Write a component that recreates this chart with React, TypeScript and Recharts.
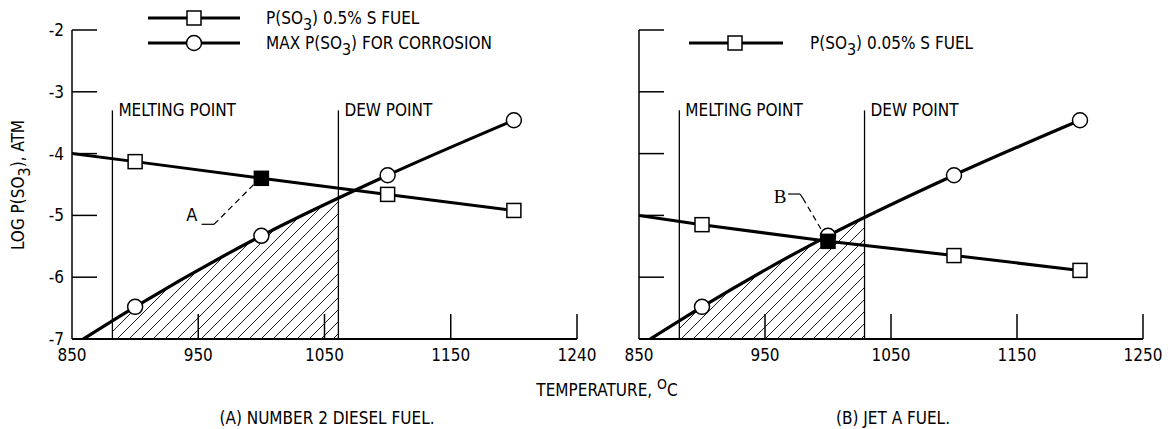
import React from "react";
import {Area, ComposedChart, Line, ReferenceDot, ReferenceLine, XAxis, YAxis} from "recharts";

// temperatures (deg C) and log P(SO3) values
const squareTemps = [850, 900, 1000, 1100, 1200];
const dieselSo3 = [-4.0, -4.13, -4.4, -4.66, -4.92];
const jetSo3 = [-5.0, -5.15, -5.42, -5.65, -5.89];
const circleTemps = [859, 900, 1000, 1100, 1200];
const maxSo3 = [-7.0, -6.48, -5.33, -4.35, -3.46];

// hatched corrosion zone (under the max curve, between melting and dew point)
const hatchTempsA = [882, 900, 1000, 1061];
const hatchValsA = [-6.71, -6.48, -5.33, -4.73];
const hatchTempsB = [882, 900, 1000, 1029];
const hatchValsB = [-6.71, -6.48, -5.33, -5.05];

const xTicks = [850, 950, 1050, 1150, 1250];
const xLabelsA = ["850", "950", "1050", "1150", "1240"];
const xLabelsB = ["850", "950", "1050", "1150", "1250"];
const yTicks = [-7, -6, -5, -4, -3, -2];

const meltA = 882;
const dewA = 1061;
const meltB = 882;
const dewB = 1029;
const markTemp = 1000;

const zip = (ts: number[], vs: number[]) => ts.map((t, i) => ({t, v: vs[i]}));

const FONT = "'DejaVu Sans Condensed', 'DejaVu Sans', sans-serif";
const txt = {fontFamily: FONT, fontSize: 17, fill: "#000"};

const makeXTick = (labels: string[]) => (props: any) => {
    const {x, y, payload} = props;
    const i = xTicks.indexOf(payload.value);
    return (
        <g>
            {payload.value !== 850 && <line x1={x} y1={y} x2={x} y2={y - 25} stroke="#000" strokeWidth={1.5}/>}
            <text x={x} y={y + 22} textAnchor="middle" style={txt}>{labels[i]}</text>
        </g>
    );
};

const makeYTick = (showLabel: boolean) => (props: any) => {
    const {x, y, payload} = props;
    return (
        <g>
            {payload.value !== -7 && <line x1={x} y1={y} x2={x + 25} y2={y} stroke="#000" strokeWidth={1.5}/>}
            {showLabel && <text x={x - 8} y={y + 6} textAnchor="end" style={txt}>{String(payload.value)}</text>}
        </g>
    );
};

const squareDot = (props: any) => {
    const {cx, cy, index, payload} = props;
    if (index === 0) return <g key={`s${index}`}/>;
    const filled = payload.t === markTemp;
    return <rect key={`s${index}`} x={cx - 7} y={cy - 7} width={14} height={14}
                 fill={filled ? "#000" : "#fff"} stroke="#000" strokeWidth={1.5}/>;
};

const circleDot = (props: any) => {
    const {cx, cy, index} = props;
    if (index === 0) return <g key={`c${index}`}/>;
    return <circle key={`c${index}`} cx={cx} cy={cy} r={7.5} fill="#fff" stroke="#000" strokeWidth={1.5}/>;
};

const pointLabel = (value: string) => ({value, position: "right" as const, offset: 6, style: txt});

interface PanelProps {
    width: number,
    left: number,
    right: number,
    squares: { t: number, v: number }[],
    hatch: { t: number, v: number }[],
    melt: number,
    dew: number,
    labels: string[],
    showY: boolean,
    children?: React.ReactNode
}

const Panel = ({width, left, right, squares, hatch, melt, dew, labels, showY, children}: PanelProps) => (
    <ComposedChart width={width} height={429} margin={{top: 30, right, bottom: 50, left}}>
        <XAxis dataKey="t" type="number" domain={[850, 1250]} ticks={xTicks} interval={0} height={40}
               tickSize={0} tickMargin={0} tickLine={false} axisLine={{stroke: "#000", strokeWidth: 1.8}}
               tick={makeXTick(labels)} allowDataOverflow/>
        <YAxis type="number" domain={[-7, -2]} ticks={yTicks} interval={0} width={30}
               tickSize={0} tickMargin={0} tickLine={false} axisLine={{stroke: "#000", strokeWidth: 1.5}}
               tick={makeYTick(showY)} allowDataOverflow/>
        <Area data={hatch} dataKey="v" type="monotone" baseValue={-7} fill="url(#hatch)" fillOpacity={1}
              stroke="none" isAnimationActive={false}/>
        <ReferenceLine segment={[{x: melt, y: -3.3}, {x: melt, y: -7}]} stroke="#000" strokeWidth={1.3}/>
        <ReferenceLine segment={[{x: dew, y: -3.3}, {x: dew, y: -7}]} stroke="#000" strokeWidth={1.3}/>
        <ReferenceDot x={melt} y={-3.3} r={0} stroke="none" label={pointLabel("MELTING POINT")}/>
        <ReferenceDot x={dew} y={-3.3} r={0} stroke="none" label={pointLabel("DEW POINT")}/>
        <Line data={zip(circleTemps, maxSo3)} dataKey="v" type="monotone" stroke="#000" strokeWidth={3.2}
              dot={circleDot} activeDot={false} isAnimationActive={false}/>
        <Line data={squares} dataKey="v" type="linear" stroke="#000" strokeWidth={3}
              dot={squareDot} activeDot={false} isAnimationActive={false}/>
        {children}
    </ComposedChart>
);

const Sub3 = () => <tspan dy={6} fontSize={16}>3</tspan>;

export default function App() {
    return (
        <div style={{position: "absolute", left: 0, top: 0, width: 1170, height: 429, background: "#fff"}}>
            <svg width={0} height={0} style={{position: "absolute"}}>
                <defs>
                    <pattern id="hatch" patternUnits="userSpaceOnUse" width={12} height={12}>
                        <path d="M0,12 L12,0 M-3,3 L3,-3 M9,15 L15,9" stroke="#000" strokeWidth={0.9}/>
                    </pattern>
                </defs>
            </svg>
            <div style={{position: "absolute", left: 0, top: 0}}>
                <Panel width={600} left={42} right={23} squares={zip(squareTemps, dieselSo3)}
                       hatch={zip(hatchTempsA, hatchValsA)} melt={meltA} dew={dewA} labels={xLabelsA} showY>
                    <ReferenceLine segment={[{x: 952.7, y: -5.144}, {x: 962.5, y: -5.144}]} stroke="#000"
                                   strokeWidth={1.2}/>
                    <ReferenceLine segment={[{x: 962.5, y: -5.144}, {x: 995, y: -4.48}]} stroke="#000"
                                   strokeWidth={1.2} strokeDasharray="6 4"/>
                    <ReferenceDot x={944.8} y={-4.99} r={0} stroke="none"
                                  label={{value: "A", position: "center", style: {...txt, fontSize: 18}}}/>
                </Panel>
            </div>
            <div style={{position: "absolute", left: 600, top: 0}}>
                <Panel width={570} left={9} right={27} squares={zip(squareTemps, jetSo3)}
                       hatch={zip(hatchTempsB, hatchValsB)} melt={meltB} dew={dewB} labels={xLabelsB}
                       showY={false}>
                    <ReferenceLine segment={[{x: 968.3, y: -4.654}, {x: 977.8, y: -4.654}]} stroke="#000"
                                   strokeWidth={1.2}/>
                    <ReferenceLine segment={[{x: 977.8, y: -4.654}, {x: 980, y: -4.72}]} stroke="#000"
                                   strokeWidth={1.2}/>
                    <ReferenceLine segment={[{x: 980, y: -4.72}, {x: 994.4, y: -5.22}]} stroke="#000"
                                   strokeWidth={1.2} strokeDasharray="6 4"/>
                    <ReferenceDot x={961.9} y={-4.69} r={0} stroke="none"
                                  label={{
                                      value: "B", position: "center",
                                      style: {fontFamily: "'Liberation Serif', serif", fontSize: 19, fill: "#000"}
                                  }}/>
                </Panel>
            </div>
            <svg width={1170} height={429} style={{position: "absolute", left: 0, top: 0, pointerEvents: "none"}}>
                {/* legend, panel A */}
                <line x1={148} y1={18} x2={240} y2={18} stroke="#000" strokeWidth={3}/>
                <rect x={187} y={11} width={14} height={14} fill="#fff" stroke="#000" strokeWidth={1.5}/>
                <text x={266} y={24} style={txt}>P(SO<Sub3/><tspan dy={-6}>) 0.5% S FUEL</tspan></text>
                <line x1={148} y1={43} x2={240} y2={43} stroke="#000" strokeWidth={3}/>
                <circle cx={194} cy={43} r={7.5} fill="#fff" stroke="#000" strokeWidth={1.5}/>
                <text x={266} y={49} style={txt}>MAX P(SO<Sub3/><tspan dy={-6}>) FOR CORROSION</tspan></text>
                {/* legend, panel B */}
                <line x1={689} y1={43} x2={783} y2={43} stroke="#000" strokeWidth={3}/>
                <rect x={728} y={36} width={14} height={14} fill="#fff" stroke="#000" strokeWidth={1.5}/>
                <text x={810} y={49} style={txt}>P(SO<Sub3/><tspan dy={-6}>) 0.05% S FUEL</tspan></text>
                {/* axis titles and captions */}
                <text transform="translate(24,185) rotate(-90)" textAnchor="middle" style={txt}>
                    LOG P(SO<Sub3/><tspan dy={-6}>), ATM</tspan>
                </text>
                <text x={607} y={396} textAnchor="middle" style={txt}>
                    TEMPERATURE, <tspan dy={-7} fontSize={14}>O</tspan><tspan dy={7}>C</tspan>
                </text>
                <text x={327} y={424} textAnchor="middle" style={txt}>(A) NUMBER 2 DIESEL FUEL.</text>
                <text x={893} y={424} textAnchor="middle" style={txt}>(B) JET A FUEL.</text>
            </svg>
        </div>
    );
}
